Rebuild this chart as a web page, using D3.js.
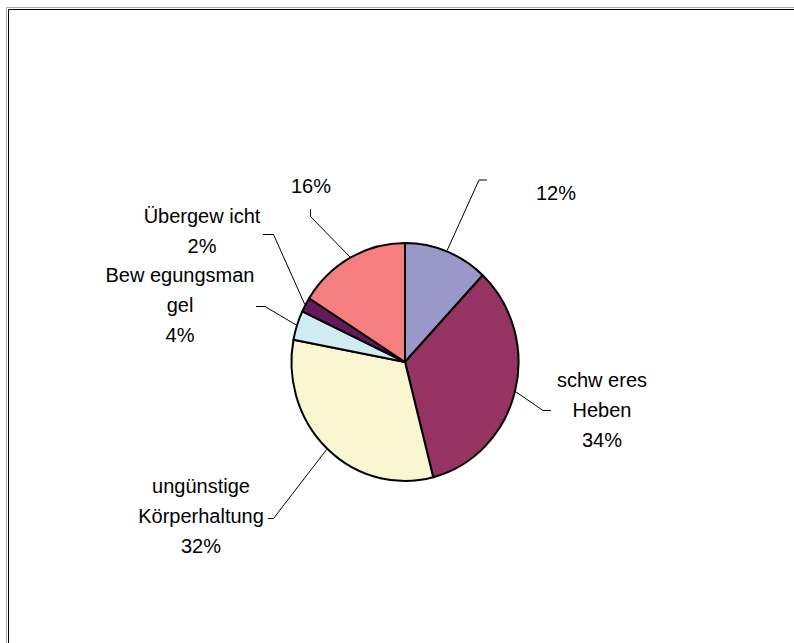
<!DOCTYPE html>
<html>
<head>
<meta charset="utf-8">
<script src="https://cdn.jsdelivr.net/npm/d3@7"></script>
<style>
  html, body { margin: 0; padding: 0; background: #fff; }
  svg { display: block; }
  text { font-family: "Liberation Sans", Arial, sans-serif; font-size: 20px; fill: #000; }
</style>
</head>
<body>
<svg id="chart" width="794" height="643"></svg>
<script>
// ---- data ----
const categories = ["", "schw eres Heben", "ungünstige Körperhaltung", "Bew egungsmangel", "Übergew icht", ""];
const values = [12, 34, 32, 4, 2, 16];
const labelLines = [
  ["12%"],
  ["schw eres", "Heben", "34%"],
  ["ungünstige", "Körperhaltung", "32%"],
  ["Bew egungsman", "gel", "4%"],
  ["Übergew icht", "2%"],
  ["16%"]
];
const colors = ["#9A97C9", "#953462", "#FAF6D2", "#D0EBF1", "#64195E", "#F47F7E"];

// ---- layout (label anchors and leader elbows, not data) ----
const labelLayout = [
  { x: 556, y: 200, elbow: [479, 180], end: [487, 180] },
  { x: 602, y: 387, elbow: [543, 410.5], end: [551, 410.5] },
  { x: 201, y: 493, elbow: [273.5, 518.5], end: [268, 518.5] },
  { x: 180, y: 282, elbow: [265, 306.5], end: [256, 306.5] },
  { x: 202, y: 223, elbow: [273.5, 234.5], end: [263, 234.5] },
  { x: 311, y: 193, elbow: [310.5, 216.5], end: [310.5, 209] }
];

const svg = d3.select("#chart");
const W = 794, H = 643;

// frame
svg.append("path").attr("d", `M6.5,${H} V7.5 H${W}`).attr("fill", "none").attr("stroke", "#aaa").attr("stroke-width", 1);
svg.append("path").attr("d", `M8.5,${H} V9.5 H${W}`).attr("fill", "none").attr("stroke", "#000").attr("stroke-width", 1);

const cx = 405, cy = 362, R = 119, sx = 0.954;
const pie = d3.pie().sort(null).value(d => d).startAngle(0).endAngle(2 * Math.PI);
const arcs = pie(values);
const arc = d3.arc().innerRadius(0).outerRadius(R);

const g = svg.append("g").attr("transform", `translate(${cx},${cy}) scale(${sx},1)`);
g.selectAll("path.slice")
  .data(arcs)
  .enter().append("path")
  .attr("class", "slice")
  .attr("d", arc)
  .attr("fill", (d, i) => colors[i])
  .attr("stroke", "#000")
  .attr("stroke-width", 2)
  .attr("stroke-linejoin", "round")
  .attr("vector-effect", "non-scaling-stroke");

// leader lines
arcs.forEach((d, i) => {
  const a = (d.startAngle + d.endAngle) / 2;
  const r0 = R + 1;
  const p0 = [cx + sx * r0 * Math.sin(a), cy - r0 * Math.cos(a)];
  const L = labelLayout[i];
  svg.append("path")
    .attr("d", `M${p0[0]},${p0[1]} L${L.elbow[0]},${L.elbow[1]} L${L.end[0]},${L.end[1]}`)
    .attr("fill", "none")
    .attr("stroke", "#000")
    .attr("stroke-width", 1);
});

// labels
labelLines.forEach((lines, i) => {
  const L = labelLayout[i];
  const t = svg.append("text").attr("text-anchor", "middle");
  lines.forEach((s, j) => {
    t.append("tspan").attr("x", L.x).attr("y", L.y + j * 30).text(s);
  });
});
</script>
</body>
</html>
